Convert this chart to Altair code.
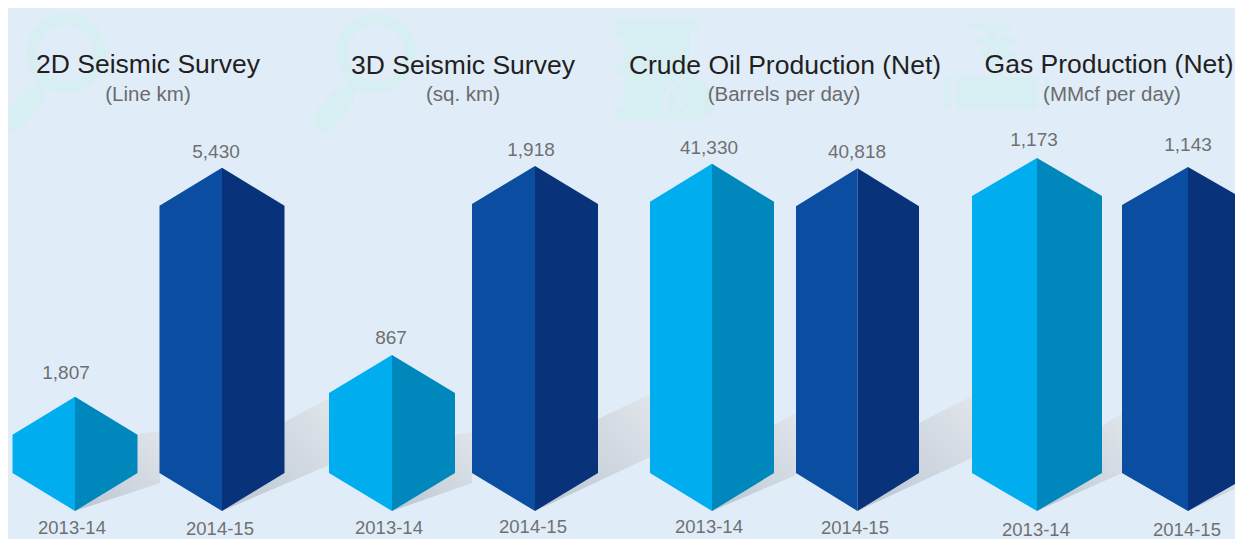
import altair as alt
import pandas as pd

# ---- values ----
panels = ["2D Seismic Survey", "3D Seismic Survey", "Crude Oil Production (Net)", "Gas Production (Net)"]
units = ["(Line km)", "(sq. km)", "(Barrels per day)", "(MMcf per day)"]
values_1314 = [1807, 867, 41330, 1173]
values_1415 = [5430, 1918, 40818, 1143]
value_text_1314 = ["1,807", "867", "41,330", "1,173"]
value_text_1415 = ["5,430", "1,918", "40,818", "1,143"]
years = ["2013-14", "2014-15"]

# ---- layout helpers (pixel-space scale) ----
panel_scale = [0.0632, 0.1799, 0.0084, 0.301]
centres_1314 = [75, 392, 712, 1037]
centres_1415 = [222, 535, 857.5, 1188]
half_w_1314 = [62.5, 63, 62, 65]
half_w_1415 = [62.5, 63, 61.5, 66]
BASE = 511
INSET = 38
title_x = [148, 463, 785, 1109]
title_y = [65, 66, 66, 65]
unit_x = [148, 463, 784, 1112]
unit_y = [95, 95, 95, 95]
vlabel_x_1314 = [66, 391, 709, 1034]
vlabel_x_1415 = [216, 531, 857, 1188]
vlabel_y_1314 = [373, 338, 148, 140]
vlabel_y_1415 = [152, 150, 152, 145]
ylabel_1314 = [(72, 528), (389, 528), (709, 527), (1036, 530)]
ylabel_1415 = [(220, 529), (533, 527), (855, 528), (1187, 530)]

# shadow: end x of each bar's cast shadow, lower/upper y at the end, upper y at the shoulder
shadow_end_x = [160, 329, 472, 650, 796, 972, 1122, 1243]
shadow_low = [483, 465, 483, 457, 475, 458, 473, 485]
shadow_up = [431, 398, 432, 394, 413, 396, 413, 470]
shadow_mid_up = [434, 422, 435, 419, 425, 423, 426, 490]

BG = "#E0EDF9"
ICON = "#D7EEF2"
C_L1, C_R1, C_L2, C_R2 = "#00AEEF", "#0087BB", "#0B4DA0", "#08337A"

bar_rows = []
shadow_rows = []
n = 0
for p in range(4):
    for j, (vals, cs, hs, cl, cr) in enumerate([
        (values_1314, centres_1314, half_w_1314, C_L1, C_R1),
        (values_1415, centres_1415, half_w_1415, C_L2, C_R2),
    ]):
        top = BASE - vals[p] * panel_scale[p]
        c, h = cs[p], hs[p]
        shoulder_top = top + INSET
        shoulder_low = BASE - INSET
        key = f"{p}-{j}"
        bar_rows += [
            dict(k=key + "L", x=c - h, y=shoulder_low, y2=shoulder_top, face=cl),
            dict(k=key + "L", x=c, y=BASE, y2=top, face=cl),
            dict(k=key + "R", x=c, y=BASE, y2=top, face=cr),
            dict(k=key + "R", x=c + h, y=shoulder_low, y2=shoulder_top, face=cr),
        ]
        shadow_rows += [
            dict(k=key, x=c, y=BASE, y2=BASE),
            dict(k=key, x=c + h, y=BASE - (BASE - shadow_low[n]) * h / (shadow_end_x[n] - c),
                 y2=shadow_mid_up[n]),
            dict(k=key, x=shadow_end_x[n], y=shadow_low[n], y2=shadow_up[n]),
        ]
        n += 1

bars = pd.DataFrame(bar_rows)
shadows = pd.DataFrame(shadow_rows)

X = alt.X("x:Q", scale=alt.Scale(domain=[8, 1235], nice=False, zero=False), axis=None)
Y = alt.Y("y:Q", scale=alt.Scale(domain=[539, 8], nice=False, zero=False), axis=None)

shadow_grad = alt.Gradient(
    gradient="linear", x1=0, y1=1, x2=1, y2=0,
    stops=[alt.GradientStop(color="#BAC4D0", offset=0),
           alt.GradientStop(color="#CCD4DD", offset=0.45),
           alt.GradientStop(color="#E0E5EA", offset=1)],
)
shadow_layer = alt.Chart(shadows).mark_area(clip=True, color=shadow_grad, interpolate="linear").encode(
    x=X, y=Y, y2="y2:Q", detail="k:N"
)
bar_layer = alt.Chart(bars).mark_area(clip=True, interpolate="linear").encode(
    x=X, y=Y, y2="y2:Q", detail="k:N", color=alt.Color("face:N", scale=None)
)

def text_layer(rows, size, color, font="Liberation Sans"):
    return alt.Chart(pd.DataFrame(rows)).mark_text(
        font=font, fontSize=size, color=color, align="center", baseline="middle"
    ).encode(x=X, y=Y, text="t:N")

titles = text_layer([dict(x=title_x[i], y=title_y[i], t=panels[i]) for i in range(4)], 26.5, "#231F20")
subs = text_layer([dict(x=unit_x[i], y=unit_y[i], t=units[i]) for i in range(4)], 20.5, "#6B6B6B")
vlabels = text_layer(
    [dict(x=vlabel_x_1314[i], y=vlabel_y_1314[i], t=value_text_1314[i]) for i in range(4)]
    + [dict(x=vlabel_x_1415[i], y=vlabel_y_1415[i], t=value_text_1415[i]) for i in range(4)],
    19, "#707070")
ylabels = text_layer(
    [dict(x=a, y=b, t=years[0]) for a, b in ylabel_1314] + [dict(x=a, y=b, t=years[1]) for a, b in ylabel_1415],
    18.5, "#707070")

# ---- pale background icons ----
rings = alt.Chart(pd.DataFrame({"x": [66, 376], "y": [53, 53]})).mark_point(
    shape="circle", size=4624, filled=False, strokeWidth=12, color=ICON, opacity=1
).encode(x=X, y=Y)
handles = []
for dx in [0, 310]:
    handles.append(alt.Chart(pd.DataFrame({"x": [14 + dx, 33 + dx], "y": [120, 98], "k": [1, 1]})).mark_line(
        strokeWidth=23, strokeCap="round", color=ICON).encode(x=X, y=Y))
    handles.append(alt.Chart(pd.DataFrame({"x": [30 + dx, 46 + dx], "y": [100, 84], "k": [1, 1]})).mark_line(
        strokeWidth=10, color=ICON).encode(x=X, y=Y))

PUMP = ("M4 0H79Q83 0 83 6Q83 12 79 12H75V100H58V101H4Q0 101 0 95Q0 89 4 89H8V55H4Q0 55 0 50Q0 45 4 45H8"
        "V19H4Q0 19 0 15.5Q0 12 4 12Q0 12 0 6Q0 0 4 0Z")
DROP = "M76 49C82 62 100 66 100 83C100 94 89 101 76 101C63 101 50 94 50 83C50 66 70 62 76 49Z"
RIM = "M72 52C64 64 48 68 48 84C48 95 57 101 63 101C55 96 53 90 53 83C53 72 66 64 72 52Z"
GLEAM = "M62 80C62 90 70 95 80 96C73 92 66 88 64 78Z"
VALVE = ("M44 0C56 0 69 1 69 4C69 7 56 8 53 8V14H62V14H71V22H63V29H71V35H59V54H93V86H13V54H47V35H36V29H43V22H34"
         "V14H44V8C40 8 24 7 24 4C24 1 36 0 44 0Z"
         "M0 54H7V86H0Z M100 54H106V86H100Z")

icon_defs = [
    (615, 19, PUMP, ICON),
    (615, 19, DROP, ICON),
    (615, 19, RIM, BG),
    (615, 19, GLEAM, BG),
    (944, 23, VALVE, ICON),
]
icons = [
    alt.Chart(pd.DataFrame({"x": [a], "y": [b]})).mark_point(
        shape=path, size=4, filled=True, color=col, opacity=1, strokeWidth=0
    ).encode(x=X, y=Y)
    for a, b, path, col in icon_defs
]

chart = alt.layer(
    rings, *handles, *icons, shadow_layer, bar_layer, titles, subs, vlabels, ylabels
).properties(
    width=1227, height=531, background=BG, padding=0, autosize=alt.AutoSizeParams(type="none")
).configure_view(stroke=None, fill=BG)

chart.save("out.html", embed_options={"renderer": "svg", "actions": False})
